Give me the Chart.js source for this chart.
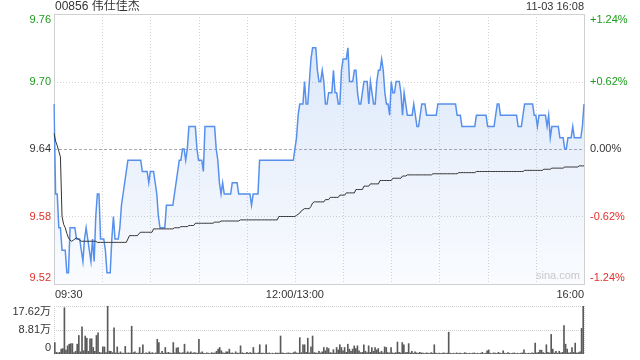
<!DOCTYPE html>
<html>
<head>
<meta charset="utf-8">
<script src="https://cdn.jsdelivr.net/npm/chart.js@4/dist/chart.umd.min.js"></script>
<style>
  html, body { margin: 0; padding: 0; background: #fff; }
  #wrap { position: relative; width: 640px; height: 360px; overflow: hidden; }
  #priceChart { position: absolute; left: 0; top: 0; }
  #volChart { position: absolute; left: 0; top: 296px; }
</style>
</head>
<body>
<div id="wrap">
  <canvas id="priceChart" width="640" height="300"></canvas>
  <canvas id="volChart" width="640" height="64"></canvas>
</div>
<script>
// ===================================
// DATA (1 point per minute, 09:30 -> 12:00/13:00 -> 16:00)
// ===================================

const stockTitle = '00856 伟仕佳杰';
const stampText = '11-03 16:08';
const prevClose = 9.64;

const priceTicks = [9.76, 9.70, 9.64, 9.58, 9.52];
const pctTicks = ['+1.24%', '+0.62%', '0.00%', '-0.62%', '-1.24%'];
const timeTicks = ['09:30', '12:00/13:00', '16:00'];
const timeTickIndex = [0, 150, 330];
const volTicks = [17.62, 8.81, 0];
const volTickLabels = ['17.62万', '8.81万', '0'];

const price = [
  9.68, 9.60, 9.60, 9.57, 9.57, 9.55, 9.55, 9.55, 9.53, 9.53,
  9.57, 9.57, 9.57, 9.57, 9.56, 9.56, 9.56, 9.55, 9.54, 9.56,
  9.57, 9.56, 9.55, 9.54, 9.56, 9.54, 9.58, 9.60, 9.60, 9.56,
  9.56, 9.56, 9.55, 9.53, 9.53, 9.53, 9.56, 9.58, 9.56, 9.56,
  9.56, 9.57, 9.59, 9.60, 9.61, 9.62, 9.63, 9.63, 9.63, 9.63,
  9.63, 9.63, 9.63, 9.63, 9.63, 9.62, 9.62, 9.62, 9.62, 9.61,
  9.62, 9.62, 9.62, 9.61, 9.60, 9.58, 9.57, 9.57, 9.57, 9.57,
  9.59, 9.59, 9.59, 9.59, 9.59, 9.60, 9.61, 9.62, 9.63, 9.63,
  9.64, 9.64, 9.63, 9.64, 9.66, 9.66, 9.66, 9.66, 9.66, 9.64,
  9.63, 9.63, 9.63, 9.62, 9.66, 9.66, 9.66, 9.66, 9.66, 9.66,
  9.66, 9.64, 9.63, 9.61, 9.60, 9.61, 9.60, 9.60, 9.60, 9.60,
  9.60, 9.61, 9.61, 9.61, 9.61, 9.60, 9.60, 9.60, 9.60, 9.60,
  9.60, 9.60, 9.60, 9.59, 9.60, 9.60, 9.60, 9.60, 9.63, 9.63,
  9.63, 9.63, 9.63, 9.63, 9.63, 9.63, 9.63, 9.63, 9.63, 9.63,
  9.63, 9.63, 9.63, 9.63, 9.63, 9.63, 9.63, 9.63, 9.63, 9.63,
  9.64, 9.65, 9.67, 9.68, 9.68, 9.68, 9.70, 9.68, 9.68, 9.70,
  9.72, 9.73, 9.73, 9.73, 9.71, 9.70, 9.70, 9.71, 9.70, 9.68,
  9.68, 9.69, 9.69, 9.69, 9.71, 9.69, 9.69, 9.68, 9.68, 9.71,
  9.72, 9.72, 9.72, 9.73, 9.70, 9.70, 9.70, 9.71, 9.71, 9.69,
  9.68, 9.68, 9.69, 9.70, 9.70, 9.70, 9.68, 9.70, 9.69, 9.68,
  9.68, 9.70, 9.71, 9.71, 9.72, 9.71, 9.69, 9.68, 9.68, 9.67,
  9.70, 9.69, 9.69, 9.70, 9.70, 9.70, 9.69, 9.67, 9.69, 9.68,
  9.67, 9.67, 9.67, 9.67, 9.68, 9.67, 9.66, 9.66, 9.67, 9.68,
  9.68, 9.68, 9.67, 9.67, 9.67, 9.67, 9.67, 9.67, 9.67, 9.68,
  9.68, 9.68, 9.68, 9.68, 9.68, 9.68, 9.68, 9.68, 9.68, 9.68,
  9.68, 9.67, 9.67, 9.67, 9.66, 9.66, 9.66, 9.66, 9.66, 9.66,
  9.66, 9.66, 9.66, 9.67, 9.67, 9.67, 9.67, 9.67, 9.67, 9.67,
  9.66, 9.66, 9.66, 9.66, 9.66, 9.67, 9.68, 9.68, 9.67, 9.67,
  9.67, 9.67, 9.67, 9.67, 9.67, 9.67, 9.67, 9.67, 9.67, 9.66,
  9.66, 9.66, 9.67, 9.68, 9.68, 9.68, 9.68, 9.68, 9.68, 9.67,
  9.67, 9.66, 9.67, 9.67, 9.67, 9.67, 9.67, 9.66, 9.67, 9.65,
  9.66, 9.66, 9.66, 9.66, 9.66, 9.65, 9.65, 9.65, 9.64, 9.64,
  9.65, 9.65, 9.65, 9.66, 9.65, 9.65, 9.65, 9.65, 9.65, 9.66,
  9.68
];

const avgPrice = [
  9.654, 9.647, 9.643, 9.638, 9.633, 9.580, 9.573, 9.570, 9.565, 9.561,
  9.559, 9.558, 9.559, 9.560, 9.561, 9.560, 9.559, 9.558, 9.558, 9.558,
  9.558, 9.558, 9.558, 9.558, 9.558, 9.558, 9.558, 9.557, 9.557, 9.557,
  9.557, 9.557, 9.557, 9.557, 9.557, 9.557, 9.557, 9.557, 9.557, 9.557,
  9.557, 9.557, 9.557, 9.557, 9.557, 9.557, 9.560, 9.563, 9.563, 9.563,
  9.563, 9.563, 9.563, 9.565, 9.566, 9.566, 9.566, 9.566, 9.566, 9.566,
  9.566, 9.566, 9.569, 9.569, 9.569, 9.569, 9.569, 9.569, 9.569, 9.569,
  9.569, 9.569, 9.569, 9.569, 9.569, 9.570, 9.570, 9.570, 9.570, 9.571,
  9.571, 9.571, 9.571, 9.571, 9.572, 9.572, 9.572, 9.572, 9.574, 9.574,
  9.574, 9.574, 9.574, 9.574, 9.574, 9.574, 9.574, 9.574, 9.574, 9.574,
  9.575, 9.575, 9.575, 9.575, 9.576, 9.576, 9.576, 9.576, 9.576, 9.576,
  9.576, 9.576, 9.576, 9.576, 9.576, 9.576, 9.577, 9.577, 9.577, 9.577,
  9.577, 9.577, 9.577, 9.577, 9.577, 9.577, 9.577, 9.577, 9.577, 9.577,
  9.577, 9.577, 9.577, 9.577, 9.577, 9.577, 9.577, 9.577, 9.577, 9.577,
  9.580, 9.580, 9.580, 9.580, 9.580, 9.580, 9.580, 9.580, 9.580, 9.580,
  9.580, 9.581, 9.582, 9.583, 9.585, 9.586, 9.587, 9.587, 9.587, 9.587,
  9.589, 9.592, 9.593, 9.593, 9.593, 9.593, 9.593, 9.593, 9.593, 9.595,
  9.595, 9.595, 9.597, 9.597, 9.597, 9.597, 9.597, 9.597, 9.599, 9.599,
  9.599, 9.599, 9.601, 9.601, 9.601, 9.601, 9.601, 9.601, 9.604, 9.604,
  9.604, 9.604, 9.604, 9.607, 9.607, 9.607, 9.607, 9.609, 9.609, 9.609,
  9.609, 9.609, 9.609, 9.612, 9.612, 9.612, 9.612, 9.612, 9.612, 9.612,
  9.612, 9.614, 9.614, 9.614, 9.614, 9.614, 9.614, 9.616, 9.616, 9.616,
  9.617, 9.617, 9.617, 9.617, 9.617, 9.617, 9.617, 9.617, 9.617, 9.617,
  9.617, 9.617, 9.617, 9.617, 9.617, 9.617, 9.618, 9.618, 9.618, 9.618,
  9.618, 9.618, 9.618, 9.618, 9.618, 9.618, 9.618, 9.618, 9.618, 9.618,
  9.618, 9.618, 9.619, 9.619, 9.619, 9.619, 9.619, 9.619, 9.619, 9.619,
  9.619, 9.619, 9.619, 9.620, 9.620, 9.620, 9.620, 9.620, 9.620, 9.620,
  9.620, 9.620, 9.620, 9.620, 9.620, 9.620, 9.620, 9.620, 9.620, 9.620,
  9.620, 9.620, 9.620, 9.620, 9.620, 9.620, 9.620, 9.620, 9.620, 9.620,
  9.620, 9.620, 9.620, 9.621, 9.621, 9.621, 9.621, 9.621, 9.621, 9.621,
  9.621, 9.621, 9.621, 9.621, 9.621, 9.622, 9.622, 9.622, 9.622, 9.622,
  9.623, 9.623, 9.623, 9.623, 9.623, 9.623, 9.623, 9.623, 9.624, 9.624,
  9.624, 9.624, 9.624, 9.624, 9.624, 9.624, 9.624, 9.625, 9.625, 9.625,
  9.625
];

// volume in 万
const volume = [
  4.2, 0.6, 0.4, 0.6, 1.8, 2.0, 17.0, 1.4, 3.0, 3.6,
  3.8, 3.8, 0.5, 1.0, 3.6, 6.8, 0.8, 10.0, 1.2, 6.6,
  5.8, 1.0, 5.6, 5.6, 2.4, 1.0, 6.8, 7.8, 0.6, 0.4,
  2.6, 2.6, 0.5, 17.62, 1.0, 1.0, 0.5, 9.6, 0.4, 2.6,
  0.3, 0.8, 0.3, 0.3, 2.8, 0.3, 0.4, 0.3, 10.2, 0.5,
  0.8, 0.3, 0.3, 2.4, 0.3, 3.4, 0.2, 0.4, 0.3, 0.8,
  0.3, 0.5, 0.2, 0.4, 5.4, 4.2, 0.3, 1.0, 0.3, 2.4,
  0.4, 0.6, 0.3, 0.3, 4.2, 0.4, 2.2, 2.4, 0.5, 0.3,
  0.5, 3.6, 0.3, 0.8, 0.4, 0.8, 0.3, 0.5, 0.4, 0.3,
  5.4, 0.4, 0.8, 0.3, 0.2, 0.4, 0.3, 0.2, 0.5, 0.3,
  0.4, 1.0, 1.8, 2.4, 1.2, 0.4, 0.3, 0.8, 0.8, 1.8,
  0.3, 0.4, 0.2, 0.8, 0.3, 0.3, 3.0, 0.4, 0.3, 0.2,
  0.6, 0.3, 0.5, 0.3, 2.4, 0.3, 0.2, 0.4, 3.4, 0.3,
  0.3, 0.2, 3.4, 0.3, 0.4, 0.2, 0.3, 0.2, 0.4, 0.3,
  0.3, 6.6, 0.4, 0.3, 0.2, 0.3, 0.4, 0.3, 0.2, 0.5,
  0.8, 0.4, 0.3, 6.0, 0.5, 3.4, 3.4, 0.6, 5.8, 0.4,
  2.6, 6.6, 0.5, 0.4, 0.3, 1.0, 0.4, 0.8, 2.4, 1.2,
  2.4, 2.0, 0.5, 0.4, 1.6, 0.3, 2.4, 1.5, 3.4, 2.4,
  1.2, 2.4, 0.6, 3.6, 1.8, 1.0, 1.8, 3.0, 2.0, 3.0,
  1.2, 0.5, 0.6, 3.4, 1.0, 0.5, 3.0, 0.6, 2.4, 1.0,
  2.4, 1.5, 2.0, 0.5, 1.0, 0.4, 2.6, 2.4, 0.5, 0.4,
  2.4, 0.4, 0.3, 0.5, 4.4, 0.6, 0.4, 4.2, 3.4, 0.5,
  0.6, 3.8, 0.4, 1.0, 0.3, 0.8, 0.4, 0.3, 0.6, 0.4,
  0.3, 0.2, 0.4, 0.3, 0.2, 0.5, 0.3, 3.4, 0.3, 0.2,
  0.3, 0.2, 0.3, 0.4, 0.2, 0.3, 8.0, 0.3, 0.2, 0.3,
  0.2, 0.4, 0.2, 0.3, 0.2, 0.2, 0.5, 0.3, 0.2, 0.3,
  0.2, 0.3, 0.4, 0.2, 0.3, 0.2, 0.3, 0.6, 0.2, 0.3,
  1.2, 1.5, 0.3, 0.2, 0.4, 0.3, 0.2, 0.6, 0.3, 0.2,
  1.2, 0.3, 0.2, 0.5, 0.3, 0.2, 0.3, 0.4, 0.2, 0.3,
  0.2, 0.3, 0.4, 1.5, 0.3, 0.2, 0.3, 0.2, 0.4, 0.3,
  4.0, 0.4, 0.6, 1.4, 1.4, 0.5, 0.3, 3.4, 0.6, 0.4,
  7.2, 1.8, 0.4, 1.0, 0.3, 1.0, 0.4, 0.6, 10.4, 3.6,
  1.8, 0.4, 0.5, 2.4, 0.6, 4.0, 0.4, 0.5, 0.8, 9.4,
  17.6
];

// minute labels (category axis)
const minutes = [];
for (let i = 0; i < price.length; i++) {
  const t = i <= 150 ? 9 * 60 + 30 + i : 13 * 60 + (i - 150);
  minutes.push(String(Math.floor(t / 60)).padStart(2, '0') + ':' + String(t % 60).padStart(2, '0'));
}

// ===================================
// STYLE HELPERS
// ===================================

const FONT = "Arial, 'Liberation Sans', 'Noto Sans CJK SC', sans-serif";
const GREEN = '#1c9c1c';
const RED = '#e0302a';
const TEXT = '#333';

function colorFor(v) {
  if (v > prevClose + 1e-9) return GREEN;
  if (v < prevClose - 1e-9) return RED;
  return TEXT;
}

function hLine(ctx, x1, x2, y) {
  ctx.beginPath();
  ctx.moveTo(x1, y);
  ctx.lineTo(x2, y);
  ctx.stroke();
}

function vLine(ctx, x, y1, y2) {
  ctx.beginPath();
  ctx.moveTo(x, y1);
  ctx.lineTo(x, y2);
  ctx.stroke();
}

// ===================================
// PRICE CHART
// ===================================

const priceDecor = {
  id: 'priceDecor',
  beforeDatasetsDraw(chart) {
    const { ctx, chartArea: a, scales: { x, y } } = chart;
    ctx.save();
    ctx.lineWidth = 1;

    // vertical half-hour grid
    ctx.strokeStyle = '#d4d4d4';
    ctx.setLineDash([1, 2]);
    for (let m = 30; m < price.length - 1; m += 30) {
      const px = Math.round(x.getPixelForValue(m)) + 0.5;
      vLine(ctx, px, a.top, a.bottom);
    }

    // horizontal grid
    priceTicks.forEach(v => {
      if (v === priceTicks[0] || v === priceTicks[priceTicks.length - 1]) return;
      const py = Math.round(y.getPixelForValue(v)) + 0.5;
      if (Math.abs(v - prevClose) < 1e-9) {
        ctx.strokeStyle = '#aaa';
        ctx.setLineDash([3, 2]);
      } else {
        ctx.strokeStyle = '#d4d4d4';
        ctx.setLineDash([1, 2]);
      }
      hLine(ctx, a.left, a.right, py);
    });

    // frame
    ctx.setLineDash([]);
    ctx.strokeStyle = '#d0d0d0';
    ctx.strokeRect(Math.round(a.left) + 0.5, Math.round(a.top) + 0.5,
      Math.round(a.right - a.left), Math.round(a.bottom - a.top));
    ctx.restore();
  },
  afterDraw(chart) {
    const { ctx, chartArea: a, scales: { x, y } } = chart;
    ctx.save();
    ctx.font = '11px ' + FONT;
    ctx.textBaseline = 'middle';

    // price + percent labels
    priceTicks.forEach((v, i) => {
      let py = y.getPixelForValue(v);
      if (i === 0) py += 6;
      if (i === priceTicks.length - 1) py -= 6;
      ctx.fillStyle = colorFor(v);
      ctx.textAlign = 'right';
      ctx.fillText(v.toFixed(2), a.left - 3, py);
      ctx.textAlign = 'left';
      ctx.fillText(pctTicks[i], a.right + 6, py);
    });

    // time labels
    ctx.fillStyle = TEXT;
    timeTicks.forEach((t, i) => {
      const px = x.getPixelForValue(timeTickIndex[i]);
      ctx.textAlign = i === 0 ? 'left' : (i === timeTicks.length - 1 ? 'right' : 'center');
      ctx.fillText(t, px + (i === 0 ? 1 : 0), a.bottom + 11);
    });

    // title + time stamp
    ctx.font = '12px ' + FONT;
    ctx.textAlign = 'left';
    ctx.fillText(stockTitle, a.left + 1, 7);
    ctx.font = '11px ' + FONT;
    ctx.textAlign = 'right';
    ctx.fillText(stampText, a.right, 7);

    // watermark
    ctx.fillStyle = '#c8c8c8';
    ctx.font = '11px ' + FONT;
    ctx.fillText('sina.com', a.right - 4, a.bottom - 8);
    ctx.restore();
  }
};

const priceCtx = document.getElementById('priceChart');
new Chart(priceCtx, {
  type: 'line',
  data: {
    labels: minutes,
    datasets: [
      {
        label: 'price',
        data: price,
        borderColor: '#5690ec',
        borderWidth: 1.5,
        pointRadius: 0,
        tension: 0,
        fill: 'start',
        backgroundColor(context) {
          const { ctx, chartArea } = context.chart;
          if (!chartArea) return 'rgba(80,140,230,0.1)';
          const g = ctx.createLinearGradient(0, chartArea.top, 0, chartArea.bottom);
          g.addColorStop(0, 'rgba(80,140,230,0.22)');
          g.addColorStop(1, 'rgba(80,140,230,0.03)');
          return g;
        },
        order: 2
      },
      {
        label: 'avg',
        data: avgPrice,
        borderColor: '#333',
        borderWidth: 1,
        pointRadius: 0,
        tension: 0,
        fill: false,
        order: 1
      }
    ]
  },
  options: {
    responsive: false,
    animation: false,
    events: [],
    layout: { padding: { left: 54, right: 56, top: 14, bottom: 16 } },
    plugins: {
      legend: { display: false },
      tooltip: { enabled: false }
    },
    scales: {
      x: { type: 'category', offset: false, display: false },
      y: { min: 9.52, max: 9.76, display: false }
    }
  },
  plugins: [priceDecor]
});

// ===================================
// VOLUME CHART
// ===================================

const volDecor = {
  id: 'volDecor',
  beforeDatasetsDraw(chart) {
    const { ctx, chartArea: a, scales: { y } } = chart;
    ctx.save();
    ctx.lineWidth = 1;
    ctx.strokeStyle = '#cfcfcf';
    ctx.setLineDash([1, 1]);
    volTicks.forEach(v => {
      if (v === 0) return;
      hLine(ctx, a.left, a.right, Math.round(y.getPixelForValue(v)) + 0.5);
    });
    vLine(ctx, Math.round(a.left) + 0.5, a.top, a.bottom);
    vLine(ctx, Math.round(a.right) + 0.5, a.top, a.bottom);
    ctx.restore();
  },
  afterDraw(chart) {
    const { ctx, chartArea: a, scales: { y } } = chart;
    ctx.save();
    ctx.font = '11px ' + FONT;
    ctx.textBaseline = 'middle';
    ctx.textAlign = 'right';
    ctx.fillStyle = TEXT;
    volTicks.forEach((v, i) => {
      let py = y.getPixelForValue(v);
      if (i === 0) py += 6;
      if (i === volTicks.length - 1) py -= 6;
      ctx.fillText(volTickLabels[i], a.left - 3, py);
    });
    ctx.restore();
  }
};

const volCtx = document.getElementById('volChart');
new Chart(volCtx, {
  type: 'bar',
  data: {
    labels: minutes,
    datasets: [{
      label: 'volume',
      data: volume,
      backgroundColor: '#5a5a5a',
      barThickness: 1,
      borderWidth: 0
    }]
  },
  options: {
    responsive: false,
    animation: false,
    events: [],
    layout: { padding: { left: 54, right: 56, top: 10, bottom: 6 } },
    plugins: {
      legend: { display: false },
      tooltip: { enabled: false }
    },
    scales: {
      x: { type: 'category', display: false },
      y: { min: 0, max: 17.62, display: false }
    }
  },
  plugins: [volDecor]
});
</script>
</body>
</html>
